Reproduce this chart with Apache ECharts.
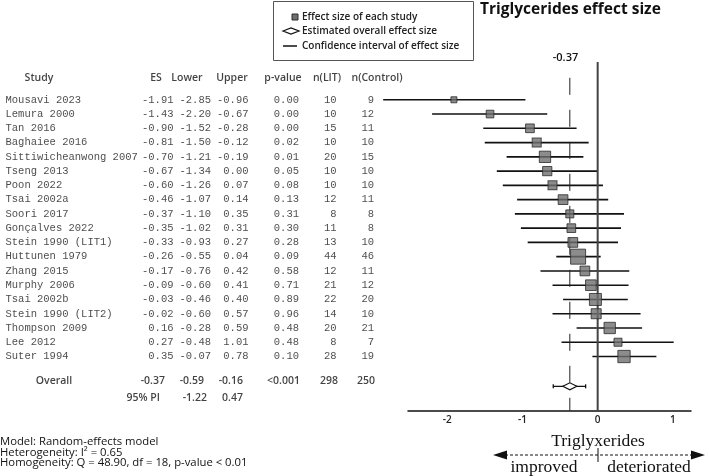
<!DOCTYPE html>
<html>
<head>
<meta charset="utf-8">
<script src="https://cdn.jsdelivr.net/npm/echarts@6/dist/echarts.min.js"></script>
<style>
html, body { margin: 0; padding: 0; background: #fff; }
#main { width: 709px; height: 476px; }
</style>
</head>
<body>
<div id="main"></div>
<script>
// study data
const studies = ['Mousavi 2023', 'Lemura 2000', 'Tan 2016', 'Baghaiee 2016', 'Sittiwicheanwong 2007',
    'Tseng 2013', 'Poon 2022', 'Tsai 2002a', 'Soori 2017', 'Gonçalves 2022', 'Stein 1990 (LIT1)',
    'Huttunen 1979', 'Zhang 2015', 'Murphy 2006', 'Tsai 2002b', 'Stein 1990 (LIT2)', 'Thompson 2009',
    'Lee 2012', 'Suter 1994'];
const es = [-1.91, -1.43, -0.90, -0.81, -0.70, -0.67, -0.60, -0.46, -0.37, -0.35, -0.33, -0.26, -0.17, -0.09, -0.03, -0.02, 0.16, 0.27, 0.35];
const lower = [-2.85, -2.20, -1.52, -1.50, -1.21, -1.34, -1.26, -1.07, -1.10, -1.02, -0.93, -0.55, -0.76, -0.60, -0.46, -0.60, -0.28, -0.48, -0.07];
const upper = [-0.96, -0.67, -0.28, -0.12, -0.19, 0.00, 0.07, 0.14, 0.35, 0.31, 0.27, 0.04, 0.42, 0.41, 0.40, 0.57, 0.59, 1.01, 0.78];
const pValue = [0.00, 0.00, 0.00, 0.02, 0.01, 0.05, 0.08, 0.13, 0.31, 0.30, 0.28, 0.09, 0.58, 0.71, 0.89, 0.96, 0.48, 0.48, 0.10];
const nLit = [10, 10, 15, 10, 20, 10, 10, 12, 8, 11, 13, 44, 12, 21, 22, 14, 20, 8, 28];
const nControl = [9, 12, 11, 10, 15, 10, 10, 11, 8, 8, 10, 46, 11, 12, 20, 10, 21, 7, 19];
// relative weight (%) -> square size
const weight = [1.9, 3.1, 4.0, 4.3, 6.8, 4.5, 4.3, 5.0, 3.4, 4.0, 5.0, 11.9, 5.0, 6.0, 7.6, 5.3, 6.8, 3.4, 8.0];

// overall result
const overallEs = -0.37;
const overallLower = -0.59;
const overallUpper = -0.16;
const overallP = '<0.001';
const totalLit = 298;
const totalControl = 250;
const piLower = -1.22;
const piUpper = 0.47;

const headers = ['Study', 'ES', 'Lower', 'Upper', 'p-value', 'n(LIT)', 'n(Control)'];
const xTicks = [-2, -1, 0, 1];

// row positions on the shared y scale (row index of each study = 0..18)
const Y_MIN = -2.65, Y_MAX = 21.8;
const ROW_HEAD = -1.54, ROW_OVERALL_TXT = 19.75, ROW_OVERALL = 20.09, ROW_PI = 20.9;

const SANS = "'Open Sans', 'Noto Sans', sans-serif";
const MONO = "'Liberation Mono', 'DejaVu Sans Mono', monospace";
const SERIF = "'Liberation Serif', 'DejaVu Serif', serif";

const chart = echarts.init(document.getElementById('main'));

// one text column of the table, drawn through grid 1
function textColumn(x, rows, texts, align, font, extra) {
    return {
        type: 'scatter',
        xAxisIndex: 1,
        yAxisIndex: 1,
        symbolSize: 0,
        silent: true,
        data: texts.map((t, i) => ({ name: String(t), value: [x, rows[i]] })),
        label: Object.assign({
            show: true,
            position: 'inside',
            align: align,
            verticalAlign: 'middle',
            formatter: '{b}',
            color: '#1a1a1a',
            fontFamily: font,
            fontSize: 10.5
        }, extra || {})
    };
}

const rows = studies.map((s, i) => i);
const fmt = v => v.toFixed(2);
const bold = { fontWeight: 600, fontSize: 10.5, color: '#111' };

const option = {
    animation: false,
    grid: [
        { left: 408, right: 18, top: 62, bottom: 65.3 },
        { left: 0, width: 400, top: 62, bottom: 65.3 }
    ],
    xAxis: [
        {
            type: 'value',
            min: -2.52,
            max: 1.24,
            splitLine: { show: false },
            axisTick: { show: false },
            axisLine: { show: true, onZero: false, lineStyle: { color: '#111', width: 1.5 } },
            axisLabel: {
                customValues: xTicks,
                color: '#222',
                fontFamily: SANS,
                fontSize: 10,
                fontWeight: 600,
                margin: 4
            }
        },
        { type: 'value', gridIndex: 1, min: 0, max: 400, show: false }
    ],
    yAxis: [
        { type: 'value', inverse: true, min: Y_MIN, max: Y_MAX, show: false },
        { type: 'value', gridIndex: 1, inverse: true, min: Y_MIN, max: Y_MAX, show: false }
    ],
    series: [
        // no-effect line
        {
            type: 'line',
            data: [[0, Y_MIN], [0, Y_MAX]],
            symbol: 'none',
            silent: true,
            clip: false,
            lineStyle: { color: '#444', width: 2 }
        },
        // overall effect line
        {
            type: 'line',
            data: [[overallEs, ROW_HEAD], [overallEs, Y_MAX]],
            symbol: 'none',
            silent: true,
            clip: false,
            lineStyle: { color: '#222', width: 1, type: [17, 15] }
        },
        // confidence intervals
        {
            type: 'custom',
            clip: false,
            silent: true,
            data: lower.map((l, i) => [l, upper[i], i]),
            encode: { x: [0, 1], y: 2 },
            renderItem: (params, api) => {
                const a = api.coord([api.value(0), api.value(2)]);
                const b = api.coord([api.value(1), api.value(2)]);
                return {
                    type: 'line',
                    shape: { x1: a[0], y1: a[1], x2: b[0], y2: b[1] },
                    style: { stroke: '#111', lineWidth: 1.6 }
                };
            },
            z: 3
        },
        // study effect sizes
        {
            type: 'scatter',
            silent: true,
            data: es.map((v, i) => [v, i, weight[i]]),
            symbol: 'rect',
            symbolSize: d => 4.35 * Math.sqrt(d[2]),
            itemStyle: { color: '#6f6f6f', borderColor: '#2a2a2a', borderWidth: 1 },
            z: 4
        },
        // overall estimate
        {
            type: 'custom',
            clip: false,
            silent: true,
            data: [[overallLower, overallUpper, ROW_OVERALL, overallEs]],
            encode: { x: [0, 1, 3], y: 2 },
            renderItem: (params, api) => {
                const a = api.coord([api.value(0), api.value(2)]);
                const b = api.coord([api.value(1), api.value(2)]);
                const c = api.coord([api.value(3), api.value(2)]);
                const s = { stroke: '#111', lineWidth: 1.3 };
                return {
                    type: 'group',
                    children: [
                        { type: 'line', shape: { x1: a[0], y1: a[1], x2: b[0], y2: b[1] }, style: s },
                        { type: 'line', shape: { x1: a[0], y1: a[1] - 2, x2: a[0], y2: a[1] + 2 }, style: s },
                        { type: 'line', shape: { x1: b[0], y1: b[1] - 2, x2: b[0], y2: b[1] + 2 }, style: s },
                        {
                            type: 'polygon',
                            shape: { points: [[c[0] - 7, c[1]], [c[0], c[1] - 3.5], [c[0] + 7, c[1]], [c[0], c[1] + 3.5]] },
                            style: { fill: '#fff', stroke: '#111', lineWidth: 1.2 }
                        }
                    ]
                };
            },
            z: 4
        },
        // table: header row
        textColumn(39, [ROW_HEAD], [headers[0]], 'center', SANS, bold),
        textColumn(156, [ROW_HEAD], [headers[1]], 'center', SANS, bold),
        textColumn(187, [ROW_HEAD], [headers[2]], 'center', SANS, bold),
        textColumn(232, [ROW_HEAD], [headers[3]], 'center', SANS, bold),
        textColumn(283, [ROW_HEAD], [headers[4]], 'center', SANS, bold),
        textColumn(327, [ROW_HEAD], [headers[5]], 'center', SANS, bold),
        textColumn(377, [ROW_HEAD], [headers[6]], 'center', SANS, bold),
        // table: studies
        textColumn(5.5, rows, studies, 'left', MONO),
        textColumn(173.5, rows, es.map(fmt), 'right', MONO),
        textColumn(211, rows, lower.map(fmt), 'right', MONO),
        textColumn(248.5, rows, upper.map(fmt), 'right', MONO),
        textColumn(299, rows, pValue.map(fmt), 'right', MONO),
        textColumn(336.5, rows, nLit, 'right', MONO),
        textColumn(374, rows, nControl, 'right', MONO),
        // table: overall and prediction interval
        textColumn(54, [ROW_OVERALL_TXT], ['Overall'], 'center', SANS, bold),
        textColumn(165, [ROW_OVERALL_TXT], [fmt(overallEs)], 'right', SANS, bold),
        textColumn(204, [ROW_OVERALL_TXT], [fmt(overallLower)], 'right', SANS, bold),
        textColumn(243, [ROW_OVERALL_TXT], [fmt(overallUpper)], 'right', SANS, bold),
        textColumn(300, [ROW_OVERALL_TXT], [overallP], 'right', SANS, bold),
        textColumn(338, [ROW_OVERALL_TXT], [totalLit], 'right', SANS, bold),
        textColumn(375, [ROW_OVERALL_TXT], [totalControl], 'right', SANS, bold),
        textColumn(160, [ROW_PI], ['95% PI'], 'right', SANS, bold),
        textColumn(207, [ROW_PI], [fmt(piLower)], 'right', SANS, bold),
        textColumn(243, [ROW_PI], [fmt(piUpper)], 'right', SANS, bold)
    ],
    graphic: [
        // legend box
        { type: 'rect', shape: { x: 273.5, y: 1.5, width: 200, height: 59 }, style: { fill: '#fff', stroke: '#555', lineWidth: 1 } },
        { type: 'rect', shape: { x: 292, y: 14, width: 6, height: 6 }, style: { fill: '#6f6f6f', stroke: '#2a2a2a', lineWidth: 1 } },
        { type: 'polygon', shape: { points: [[283, 31], [291, 28], [299, 31], [291, 34]] }, style: { fill: '#fff', stroke: '#111', lineWidth: 1.2 } },
        { type: 'line', shape: { x1: 283, y1: 46, x2: 297, y2: 46 }, style: { stroke: '#111', lineWidth: 1.5 } },
        { type: 'text', x: 302, y: 17, style: { text: 'Effect size of each study', font: '600 10px ' + SANS, fill: '#222', verticalAlign: 'middle' } },
        { type: 'text', x: 302, y: 31, style: { text: 'Estimated overall effect size', font: '600 10px ' + SANS, fill: '#222', verticalAlign: 'middle' } },
        { type: 'text', x: 302, y: 46, style: { text: 'Confidence interval of effect size', font: '600 10px ' + SANS, fill: '#222', verticalAlign: 'middle' } },
        // title
        { type: 'text', x: 480, y: 10, style: { text: 'Triglycerides effect size', font: 'bold 15.5px ' + SANS, fill: '#111', verticalAlign: 'middle' } },
        // overall value label
        { type: 'text', x: 565.5, y: 58, style: { text: fmt(overallEs), font: '600 11px ' + SANS, fill: '#111', align: 'center', verticalAlign: 'middle' } },
        // direction arrow
        { type: 'text', x: 598, y: 441, style: { text: 'Triglyxerides', font: '17.5px ' + SERIF, fill: '#111', align: 'center', verticalAlign: 'middle' } },
        { type: 'line', shape: { x1: 505, y1: 455, x2: 693, y2: 455 }, style: { stroke: '#111', lineWidth: 1, lineDash: [3, 2] } },
        { type: 'polygon', shape: { points: [[493, 455], [507, 450.5], [507, 459.5]] }, style: { fill: '#111' } },
        { type: 'polygon', shape: { points: [[705, 455], [691, 450.5], [691, 459.5]] }, style: { fill: '#111' } },
        { type: 'line', shape: { x1: 598, y1: 448, x2: 598, y2: 462 }, style: { stroke: '#111', lineWidth: 1 } },
        { type: 'text', x: 544, y: 467, style: { text: 'improved', font: '17.5px ' + SERIF, fill: '#111', align: 'center', verticalAlign: 'middle' } },
        { type: 'text', x: 649, y: 467, style: { text: 'deteriorated', font: '17.5px ' + SERIF, fill: '#111', align: 'center', verticalAlign: 'middle' } },
        // model notes
        { type: 'text', x: 0, y: 442, style: { text: 'Model: Random-effects model', font: '500 11.3px ' + SANS, fill: '#111', verticalAlign: 'middle' } },
        { type: 'text', x: 0, y: 452.5, style: { text: 'Heterogeneity: I² = 0.65', font: '500 11.3px ' + SANS, fill: '#111', verticalAlign: 'middle' } },
        { type: 'text', x: 0, y: 463, style: { text: 'Homogeneity: Q = 48.90, df = 18, p-value < 0.01', font: '500 11.3px ' + SANS, fill: '#111', verticalAlign: 'middle' } }
    ]
};

chart.setOption(option);
</script>
</body>
</html>
